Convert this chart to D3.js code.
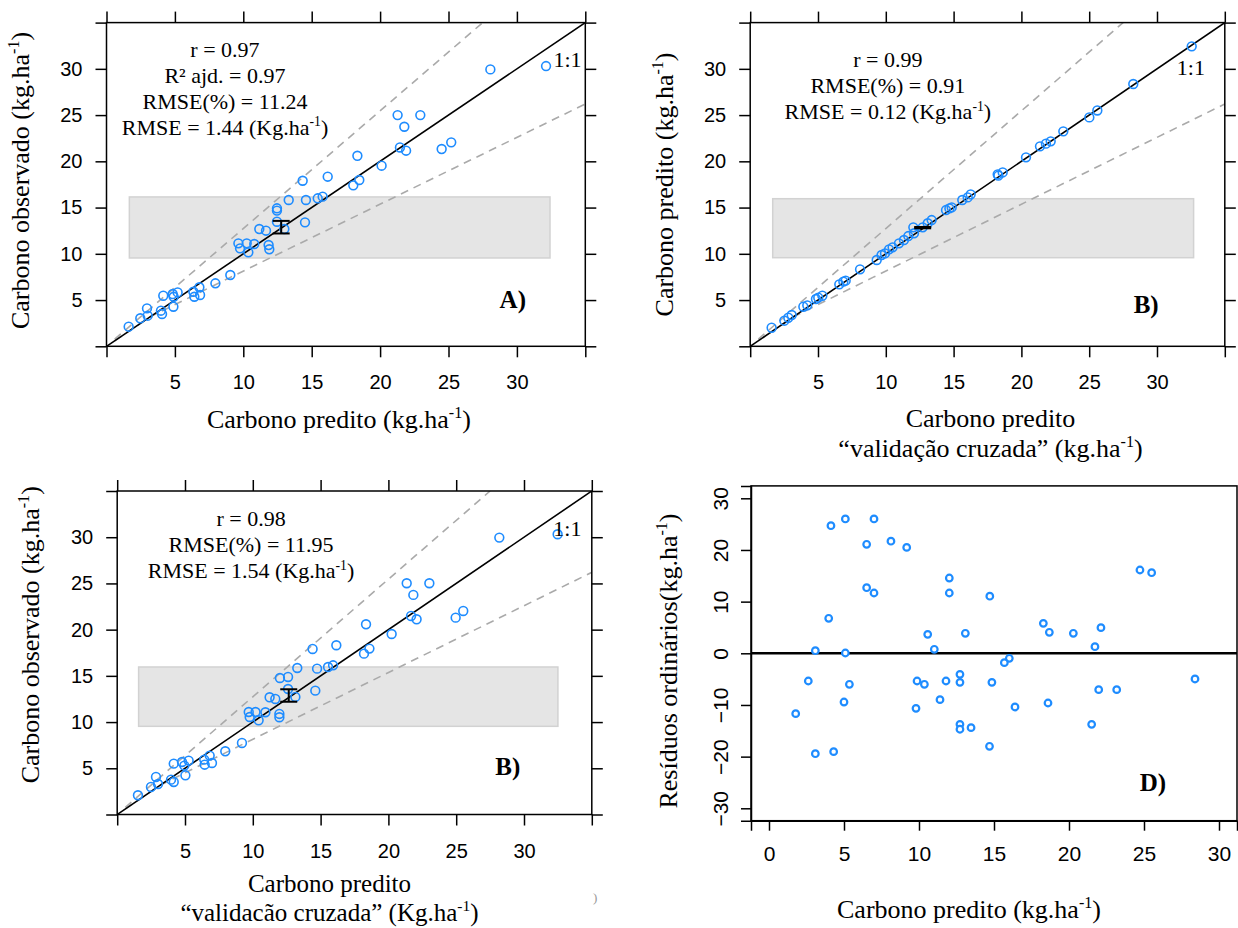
<!DOCTYPE html>
<html><head><meta charset="utf-8">
<script src="https://cdn.jsdelivr.net/npm/d3@7"></script>
<style>body{margin:0;background:#fff}svg{display:block}</style>
</head><body>
<svg id="chart" width="1238" height="928"></svg>
<script>
// ---------------- DATA ----------------
// Panel A: predicted (x) vs observed (y)
const predA = [1.62,2.47,2.96,3.01,3.98,4.06,4.15,4.84,4.91,4.89,5.2,6.35,6.42,6.79,6.84,7.96,9.05,9.64,9.76,10.25,10.37,10.8,11.17,11.66,11.85,11.9,12.46,12.46,12.46,13.0,13.32,14.34,14.51,14.58,15.44,15.8,16.17,18.34,18.04,18.48,20.11,21.28,21.77,21.45,21.9,22.94,24.5,25.2,28.06,32.13];
const obsA  = [2.12,3.03,4.1,3.31,3.85,3.49,5.47,5.65,5.36,4.28,5.83,5.9,5.36,6.38,5.55,6.81,7.71,11.13,10.59,11.13,10.16,11.06,12.68,12.5,10.95,10.49,14.92,14.67,13.47,12.68,15.82,17.9,13.4,15.82,16.0,16.18,18.34,20.6,17.4,17.98,19.53,25.0,23.74,21.5,21.15,25.0,21.33,22.05,29.94,30.3];
// Panel B (top right): cross-validated predicted (x) vs predicted (y)
const cvB   = [1.58,2.52,2.81,3.06,3.92,4.21,4.85,5.02,5.32,6.57,6.87,7.04,8.1,9.33,9.69,9.94,10.24,10.5,10.97,11.34,11.66,12.03,12.08,12.72,13.09,13.38,14.44,14.69,14.86,15.64,16.04,16.26,18.25,18.3,18.62,20.34,21.37,21.81,22.16,23.09,25.01,25.6,28.25,32.56];
const predB = [2.01,2.77,3.09,3.38,4.28,4.43,5.11,5.26,5.47,6.7,6.99,7.1,8.32,9.33,9.87,10.05,10.48,10.7,11.13,11.49,11.92,12.86,12.22,12.86,13.3,13.65,14.73,14.91,15.02,15.82,16.1,16.43,18.59,18.45,18.8,20.43,21.62,21.91,22.16,23.24,24.75,25.5,28.36,32.43];
// Panel C (bottom left): cross-validated predicted (x) vs observed (y)
const predC = [1.53,2.49,2.86,3.01,3.97,4.17,4.17,4.78,4.95,5.03,5.27,6.42,6.45,6.82,6.99,7.97,9.2,9.7,9.77,10.2,10.43,10.93,11.24,11.66,11.96,11.96,12.0,12.6,12.6,13.14,13.28,14.41,14.61,14.74,15.55,15.92,16.16,18.35,18.2,18.6,20.24,21.35,21.84,21.67,22.08,23.02,24.96,25.52,28.18,32.48];
const obsC  = [2.08,2.98,4.06,3.3,3.77,3.52,5.5,5.68,5.29,4.24,5.83,5.94,5.39,6.37,5.57,6.84,7.74,11.09,10.55,11.09,10.19,11.06,12.68,12.5,10.88,10.52,14.77,14.88,13.58,12.72,15.85,17.91,13.4,15.78,15.96,16.14,18.31,20.58,17.4,17.95,19.53,25.02,23.76,21.48,21.12,25.02,21.3,22.02,29.96,30.32];
// Panel D: predicted (x) vs ordinary residuals (y)
const predD  = [4.13,5.09,7.0,6.51,8.13,9.18,12.02,6.51,7.0,12.02,14.72,3.98,10.58,13.09,3.09,5.09,11.02,2.62,5.36,9.87,10.36,11.8,12.73,12.73,14.86,5.0,11.4,9.8,1.78,12.73,12.73,13.47,14.7,3.09,4.31,24.73,25.51,18.29,18.69,20.29,22.13,21.73,16.02,15.69,28.4,21.98,23.18,16.4,18.6,21.51];
const residD = [24.7,26.0,26.0,21.1,21.7,20.5,14.57,12.7,11.67,11.67,11.05,6.77,3.67,3.87,0.5,0.06,0.77,-5.36,-6.0,-5.36,-6.0,-5.36,-4.07,-5.62,-5.62,-9.43,-8.97,-10.65,-11.68,-13.75,-14.7,-14.39,-18.0,-19.43,-19.04,16.12,15.6,5.8,4.06,3.87,4.96,1.28,-0.97,-1.81,-4.97,-7.04,-7.04,-10.39,-9.62,-13.75];

// reference lines (1:1 and dashed envelope), grey range box, mean error bars
const lineOne   = [[0,0],[35,35]];
const bandUpper = [[0.6,0.77],[27.5,35]];
const bandLower = [[0.6,0.6],[3.2,3.2],[9.05,7.45],[35,26.2]];
const rectA = [1.67,32.42,9.55,16.15];
const rectB = [1.66,32.7,9.58,15.96];
const rectC = [1.58,32.5,9.54,15.96];
const errA = [12.77,12.2,13.56];
const errB = [12.72,12.76,12.9];
const errC = [12.65,12.2,13.55];

const latticeTicks = [0,5,10,15,20,25,30,35];
const latticeLabels = [5,10,15,20,25,30];
const dTicksX = [0,5,10,15,20,25,30];
const dTicksY = [-30,-20,-10,0,10,20,30];

const statsA = ["r = 0.97","R² ajd. = 0.97","RMSE(%) = 11.24","RMSE = 1.44 (Kg.ha|-1|)"];
const statsB = ["r = 0.99","RMSE(%) = 0.91","RMSE = 0.12 (Kg.ha|-1|)"];
const statsC = ["r = 0.98","RMSE(%) = 11.95","RMSE = 1.54 (Kg.ha|-1|)"];

// ---------------- DRAWING ----------------
const svg = d3.select("#chart");
const SERIF = "'Liberation Serif','Times New Roman',serif";
const SANS = "'Liberation Sans',Arial,sans-serif";
const BLUE = "#1e8cff";
const defs = svg.append("defs");

// writes text with |..| segments rendered as superscript
function richText(sel, str, size) {
  const parts = str.split("|");
  parts.forEach((p, i) => {
    if (i % 2 === 1) {
      sel.append("tspan").attr("dy", -size*0.38).attr("font-size", size*0.62).text(p);
    } else {
      const t = sel.append("tspan").text(p);
      if (i > 0) t.attr("dy", size*0.38);
    }
  });
}

function lattice(cfg) {
  const x = d3.scaleLinear().domain([0,35]).range([cfg.left, cfg.right]);
  const y = d3.scaleLinear().domain([0,35]).range([cfg.bottom, cfg.top]);
  const g = svg.append("g");
  const cid = "clip" + cfg.id;
  defs.append("clipPath").attr("id", cid).append("rect")
    .attr("x", cfg.left).attr("y", cfg.top).attr("width", cfg.right-cfg.left).attr("height", cfg.bottom-cfg.top);
  const inner = g.append("g").attr("clip-path", `url(#${cid})`);
  const r = cfg.rect;
  inner.append("rect").attr("x", x(r[0])).attr("y", y(r[3]))
    .attr("width", x(r[1])-x(r[0])).attr("height", y(r[2])-y(r[3]))
    .attr("fill", "#e5e5e5").attr("stroke", "#d2d2d2").attr("stroke-width", 1.5);
  const line = d3.line().x(d => x(d[0])).y(d => y(d[1]));
  [bandUpper, bandLower].forEach(b => inner.append("path").attr("d", line(b))
    .attr("fill","none").attr("stroke","#aaaaaa").attr("stroke-width",1.6).attr("stroke-dasharray","8,6"));
  inner.append("path").attr("d", line(lineOne)).attr("fill","none").attr("stroke","#000").attr("stroke-width",1.6);
  inner.selectAll("circle.pt").data(d3.range(cfg.xs.length)).enter().append("circle")
    .attr("cx", i => x(cfg.xs[i])).attr("cy", i => y(cfg.ys[i])).attr("r", 4.4)
    .attr("fill","none").attr("stroke", BLUE).attr("stroke-width", 1.6);
  // mean error bar
  const e = cfg.err, cw = 8.5;
  const eg = g.append("g").attr("stroke","#000").attr("stroke-width",2);
  eg.append("line").attr("x1", x(e[0])).attr("x2", x(e[0])).attr("y1", y(e[1])).attr("y2", y(e[2]));
  [e[1], e[2]].forEach(v => eg.append("line").attr("x1", x(e[0])-cw).attr("x2", x(e[0])+cw).attr("y1", y(v)).attr("y2", y(v)));
  // box
  g.append("rect").attr("x", cfg.left).attr("y", cfg.top).attr("width", cfg.right-cfg.left).attr("height", cfg.bottom-cfg.top)
    .attr("fill","none").attr("stroke","#000").attr("stroke-width",1.5);
  // axes on four sides
  const fmt = d => latticeLabels.includes(d) ? d : "";
  const axes = [
    [d3.axisBottom(x).tickFormat(fmt).tickPadding(18), `translate(0,${cfg.bottom})`],
    [d3.axisTop(x).tickFormat(""), `translate(0,${cfg.top})`],
    [d3.axisLeft(y).tickFormat(fmt).tickPadding(13), `translate(${cfg.left},0)`],
    [d3.axisRight(y).tickFormat(""), `translate(${cfg.right},0)`]
  ];
  axes.forEach(([ax, tr]) => {
    const a = g.append("g").attr("transform", tr).call(ax.tickValues(latticeTicks).tickSize(11));
    a.select(".domain").remove();
    a.selectAll(".tick line").attr("stroke","#000").attr("stroke-width",1.5);
    a.selectAll("text").attr("font-family", SANS).attr("font-size", 20).attr("fill","#000");
  });
  // stats text
  cfg.stats.forEach((s, i) => {
    const t = g.append("text").attr("font-family", SERIF).attr("font-size", 22).attr("text-anchor","middle")
      .attr("x", x(cfg.statsPos[0])).attr("y", y(cfg.statsPos[1]) + i*26);
    richText(t, s, 22);
  });
  g.append("text").attr("x", x(cfg.oneToOne[0])).attr("y", y(cfg.oneToOne[1])).attr("text-anchor","middle")
    .attr("font-family", SERIF).attr("font-size", 22).text("1:1");
  g.append("text").attr("x", x(cfg.tag[0])).attr("y", y(cfg.tag[1])).attr("text-anchor","middle")
    .attr("font-family", SERIF).attr("font-size", 25).attr("font-weight","bold").text(cfg.tag[2]);
  // titles
  cfg.xTitle.forEach((s, i) => {
    const t = g.append("text").attr("x", (cfg.left+cfg.right)/2 + cfg.xTitleDx).attr("y", cfg.xTitleY + i*cfg.xTitleGap)
      .attr("text-anchor","middle").attr("font-family", SERIF).attr("font-size", cfg.xTitleSize);
    richText(t, s, cfg.xTitleSize);
  });
  const yt = g.append("text").attr("transform", `translate(${cfg.yTitleX},${(cfg.top+cfg.bottom)/2 + cfg.yTitleDy}) rotate(-90)`)
    .attr("text-anchor","middle").attr("font-family", SERIF).attr("font-size", 26);
  richText(yt, cfg.yTitle, 26);
}

lattice({id:"A", left:106.5, right:585.3, top:22.6, bottom:346.3, xs:predA, ys:obsA, rect:rectA, err:errA,
  stats:statsA, statsPos:[8.66,31.3], oneToOne:[33.7,30.2], tag:[29.7,4.1,"A)"],
  xTitle:["Carbono predito (kg.ha|-1|)"], xTitleY:428, xTitleDx:-7, xTitleGap:29.5, xTitleSize:26,
  yTitle:"Carbono observado (kg.ha|-1|)", yTitleX:29, yTitleDy:-4});
lattice({id:"B", left:750.2, right:1224.8, top:22.6, bottom:346.3, xs:cvB, ys:predB, rect:rectB, err:errB,
  stats:statsB, statsPos:[10.15,30.2], oneToOne:[32.5,29.3], tag:[29.2,3.6,"B)"],
  xTitle:["Carbono predito","“validação cruzada” (kg.ha|-1|)"], xTitleY:427, xTitleDx:3, xTitleGap:29.5, xTitleSize:26,
  yTitle:"Carbono predito (kg.ha|-1|)", yTitleX:673, yTitleDy:0});
lattice({id:"C", left:117.2, right:591.8, top:491, bottom:814.5, xs:predC, ys:obsC, rect:rectC, err:errC,
  stats:statsC, statsPos:[9.87,31.2], oneToOne:[33.2,30.1], tag:[28.8,4.3,"B)"],
  xTitle:["Carbono predito","“validacão cruzada” (Kg.ha|-1|)"], xTitleY:892, xTitleDx:-25, xTitleGap:28.5, xTitleSize:25,
  yTitle:"Carbono observado (kg.ha|-1|)", yTitleX:39, yTitleDy:-18});
svg.append("text").attr("x",593).attr("y",902).attr("font-family",SERIF).attr("font-size",13).attr("fill","#999").text(")");

// ---------------- Panel D ----------------
(function(){
  const L = 751, R = 1237, T = 485.9, B = 820.7;
  const x = d3.scaleLinear().domain([-1.2,31.2]).range([L,R]);
  const y = d3.scaleLinear().domain([-32.4,32.4]).range([B,T]);
  const g = svg.append("g");
  g.append("line").attr("x1", L).attr("x2", R).attr("y1", y(0)).attr("y2", y(0)).attr("stroke","#000").attr("stroke-width",2.5);
  g.selectAll("circle").data(d3.range(predD.length)).enter().append("circle")
    .attr("cx", i => x(predD[i])).attr("cy", i => y(residD[i])).attr("r", 3.3)
    .attr("fill","#fff").attr("stroke", BLUE).attr("stroke-width", 2.2);
  g.append("rect").attr("x",L).attr("y",T).attr("width",R-L).attr("height",B-T).attr("fill","none").attr("stroke","#000").attr("stroke-width",1.5);
  const ax = g.append("g").attr("transform",`translate(0,${B})`)
    .call(d3.axisBottom(x).tickValues(dTicksX).tickSize(10).tickPadding(15));
  const ay = g.append("g").attr("transform",`translate(${L},0)`)
    .call(d3.axisLeft(y).tickValues(dTicksY).tickSize(10).tickPadding(12));
  [ax, ay].forEach(a => {
    a.select(".domain").attr("stroke","#000").attr("stroke-width",1.5);
    a.selectAll(".tick line").attr("stroke","#000").attr("stroke-width",1.5);
    a.selectAll("text").attr("font-family", SANS).attr("font-size", 21).attr("fill","#000");
  });
  ay.selectAll("text").attr("x", null).attr("dy", null).attr("text-anchor","middle")
    .attr("transform","translate(-23,0) rotate(-90)");
  g.append("text").attr("x", x(25.6)).attr("y", y(-26.7)).attr("text-anchor","middle")
    .attr("font-family", SERIF).attr("font-size", 25).attr("font-weight","bold").text("D)");
  const xt = g.append("text").attr("x", 969).attr("y", 918).attr("text-anchor","middle").attr("font-family", SERIF).attr("font-size", 26);
  richText(xt, "Carbono predito (kg.ha|-1|)", 26);
  const yt = g.append("text").attr("transform","translate(677,661) rotate(-90)").attr("text-anchor","middle").attr("font-family", SERIF).attr("font-size", 26);
  richText(yt, "Resíduos ordinários(kg.ha|-1|)", 26);
})();
</script>
</body></html>
